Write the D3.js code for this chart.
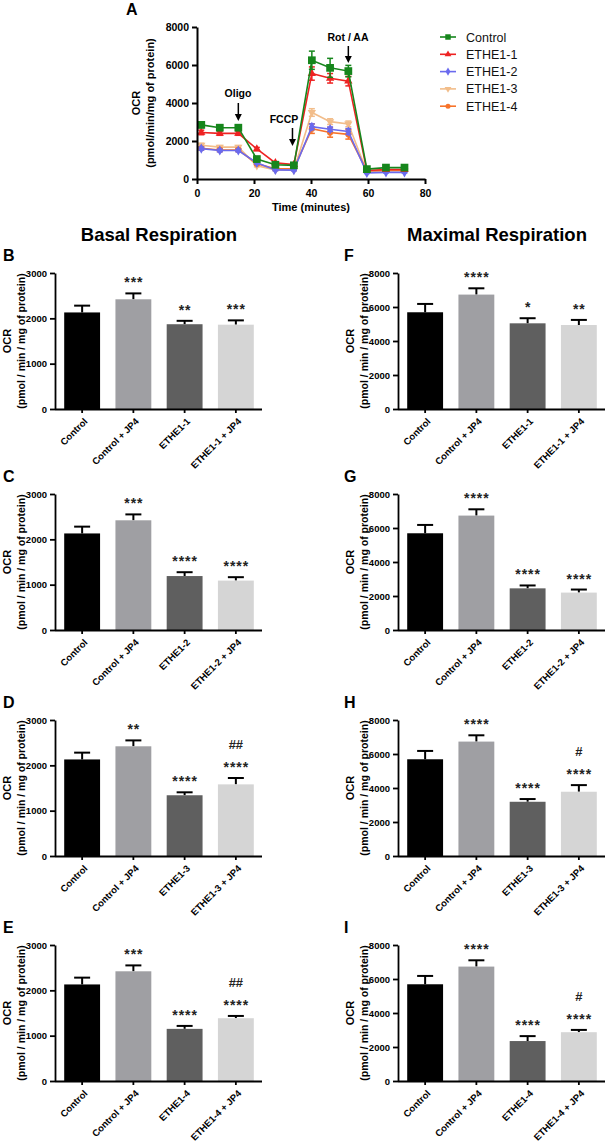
<!DOCTYPE html>
<html><head><meta charset="utf-8">
<script src="https://cdn.jsdelivr.net/npm/d3@7"></script>
<style>
body{margin:0;background:#fff;}
svg{display:block;font-family:"Liberation Sans",Arial,sans-serif;}
</style></head>
<body><svg id="c" width="605" height="1144"></svg>
<script>
// ---------- Panel A data ----------
const times = [1.5, 8, 14.5, 21, 27.5, 34, 40.3, 46.7, 53.1, 59.6, 66.3, 72.8];
const seriesNames = ["Control", "ETHE1-1", "ETHE1-2", "ETHE1-3", "ETHE1-4"];
const ocrControl = [2850, 2700, 2700, 1050, 750, 720, 6250, 5850, 5680, 520, 600, 600];
const ocrEthe1 = [2450, 2400, 2400, 1580, 850, 760, 5550, 5300, 5150, 450, 500, 500];
const ocrEthe2 = [1600, 1500, 1500, 850, 480, 470, 2750, 2620, 2500, 320, 350, 350];
const ocrEthe3 = [1780, 1680, 1680, 700, 480, 470, 3500, 3020, 2900, 380, 420, 430];
const ocrEthe4 = [1620, 1530, 1530, 800, 540, 540, 2650, 2450, 2350, 430, 460, 460];
const errControl = [150, 100, 100, 80, 60, 60, 480, 500, 300, 50, 50, 50];
const errEthe1 = [120, 100, 100, 80, 60, 60, 350, 250, 250, 40, 40, 40];
const errEthe2 = [80, 70, 70, 60, 40, 40, 150, 120, 150, 30, 30, 30];
const errEthe3 = [100, 80, 80, 60, 40, 40, 200, 150, 150, 30, 30, 30];
const errEthe4 = [80, 80, 80, 60, 40, 40, 250, 250, 250, 30, 30, 30];
const timeTicks = [0, 20, 40, 60, 80];
const ocrTicks = [0, 2000, 4000, 6000, 8000];
const injections = [{label: "Oligo", t: 14.5}, {label: "FCCP", t: 33.5}, {label: "Rot / AA", t: 53.1}];

// ---------- Bar panels data ----------
const basalTicks = [0, 1000, 2000, 3000];
const maxTicks = [0, 2000, 4000, 6000, 8000];
const catsB = ["Control", "Control + JP4", "ETHE1-1", "ETHE1-1 + JP4"];
const catsC = ["Control", "Control + JP4", "ETHE1-2", "ETHE1-2 + JP4"];
const catsD = ["Control", "Control + JP4", "ETHE1-3", "ETHE1-3 + JP4"];
const catsE = ["Control", "Control + JP4", "ETHE1-4", "ETHE1-4 + JP4"];
const basalB = [2130, 2420, 1870, 1860], basalBErr = [150, 130, 75, 95];
const basalC = [2130, 2420, 1190, 1090], basalCErr = [150, 130, 85, 75];
const basalD = [2130, 2420, 1340, 1580], basalDErr = [150, 130, 65, 140];
const basalE = [2130, 2420, 1150, 1385], basalEErr = [150, 130, 65, 50];
const maxF = [5690, 6730, 5040, 4940], maxFErr = [490, 370, 300, 300];
const maxG = [5690, 6730, 2450, 2200], maxGErr = [490, 370, 170, 180];
const maxH = [5690, 6730, 3190, 3780], maxHErr = [490, 370, 160, 390];
const maxI = [5690, 6730, 2350, 2870], maxIErr = [490, 370, 290, 135];
const starsB = ["", "***", "**", "***"], starsF = ["", "****", "*", "**"];
const starsC = ["", "***", "****", "****"], starsG = ["", "****", "****", "****"];
const starsD = ["", "**", "****", "****"], starsH = ["", "****", "****", "****"];
const starsE = ["", "***", "****", "****"], starsI = ["", "****", "****", "****"];
const hashD = ["", "", "", "##"], hashE = ["", "", "", "##"];
const hashH = ["", "", "", "#"], hashI = ["", "", "", "#"];
const none = ["", "", "", ""];

const barColors = ["#000000", "#9f9fa3", "#5f5f5f", "#d5d5d5"];
const lineColors = {"Control": "#16861c", "ETHE1-1": "#ee2222", "ETHE1-2": "#6a6aee", "ETHE1-3": "#f2bd8a", "ETHE1-4": "#f7732a"};
const fmt = d3.format("d");

const svg = d3.select("#c");

// ================= Panel A =================
(function () {
  const x = d3.scaleLinear().domain([0, 80]).range([197, 425]);
  const y = d3.scaleLinear().domain([0, 8000]).range([179, 27]);
  const g = svg.append("g");
  g.append("text").attr("x", 126).attr("y", 15).attr("font-size", 16).attr("font-weight", "bold").text("A");

  const series = [
    {name: "ETHE1-3", v: ocrEthe3, e: errEthe3, sym: "down"},
    {name: "ETHE1-4", v: ocrEthe4, e: errEthe4, sym: d3.symbolCircle},
    {name: "ETHE1-2", v: ocrEthe2, e: errEthe2, sym: d3.symbolDiamond},
    {name: "ETHE1-1", v: ocrEthe1, e: errEthe1, sym: d3.symbolTriangle},
    {name: "Control", v: ocrControl, e: errControl, sym: d3.symbolSquare}
  ];
  const symPath = (s, size) => s === "down" ? d3.symbol(d3.symbolTriangle, size)() : d3.symbol(s, size)();
  const symSize = n => n === "Control" ? 60 : 30;
  const line = d3.line().x(d => x(d[0])).y(d => y(d[1]));
  series.forEach(s => {
    const col = lineColors[s.name];
    const pts = times.map((t, i) => [t, s.v[i], s.e[i]]);
    const sg = g.append("g");
    pts.forEach(p => {
      sg.append("line").attr("x1", x(p[0])).attr("x2", x(p[0])).attr("y1", y(p[1] - p[2])).attr("y2", y(p[1] + p[2])).attr("stroke", col).attr("stroke-width", 1.5);
      [p[1] - p[2], p[1] + p[2]].forEach(v => sg.append("line").attr("x1", x(p[0]) - 3).attr("x2", x(p[0]) + 3).attr("y1", y(v)).attr("y2", y(v)).attr("stroke", col).attr("stroke-width", 1.5));
    });
    sg.append("path").attr("d", line(pts)).attr("fill", "none").attr("stroke", col).attr("stroke-width", 1.6);
    sg.selectAll("path.m").data(pts).join("path").attr("class", "m")
      .attr("d", symPath(s.sym, symSize(s.name)))
      .attr("transform", d => `translate(${x(d[0])},${y(d[1])})` + (s.sym === "down" ? " rotate(180)" : ""))
      .attr("fill", col);
  });

  const xa = g.append("g").attr("transform", "translate(0,179)")
    .call(d3.axisBottom(x).tickValues(timeTicks).tickFormat(fmt).tickSize(5).tickSizeOuter(0));
  const ya = g.append("g").attr("transform", "translate(197,0)")
    .call(d3.axisLeft(y).tickValues(ocrTicks).tickFormat(fmt).tickSize(5).tickSizeOuter(0));
  [xa, ya].forEach(a => {
    a.select(".domain").attr("stroke", "#000").attr("stroke-width", 2);
    a.selectAll(".tick line").attr("stroke", "#000").attr("stroke-width", 2);
    a.selectAll(".tick text").attr("font-size", 10.5).attr("font-weight", "bold").attr("fill", "#000")
      .attr("font-family", "Liberation Sans, Arial, sans-serif");
  });
  xa.selectAll(".tick text").attr("dy", "0.95em");
  g.append("text").attr("x", 311).attr("y", 211).attr("text-anchor", "middle").attr("font-size", 11).attr("font-weight", "bold").text("Time (minutes)");
  g.append("text").attr("transform", "translate(140,103) rotate(-90)").attr("text-anchor", "middle").attr("font-size", 11).attr("font-weight", "bold").text("OCR");
  g.append("text").attr("transform", "translate(154,103) rotate(-90)").attr("text-anchor", "middle").attr("font-size", 11).attr("font-weight", "bold").text("(pmol/min/mg of protein)");

  // injection annotations
  const annY = {"Oligo": [97, 103, 121], "FCCP": [123, 128, 146], "Rot / AA": [41, 46, 63]};
  const annX = {"Oligo": 238, "FCCP": 284, "Rot / AA": 348};
  injections.forEach(a => {
    const ax = x(a.t), yy = annY[a.label];
    g.append("text").attr("x", annX[a.label]).attr("y", yy[0]).attr("text-anchor", "middle").attr("font-size", 10.5).attr("font-weight", "bold").text(a.label);
    g.append("line").attr("x1", ax).attr("x2", ax).attr("y1", yy[1]).attr("y2", yy[2] - 5).attr("stroke", "#000").attr("stroke-width", 1.5);
    g.append("path").attr("d", `M${ax - 3.5},${yy[2] - 7}L${ax + 3.5},${yy[2] - 7}L${ax},${yy[2]}Z`).attr("fill", "#000");
  });

  // legend
  const legOrder = [
    {name: "Control", sym: d3.symbolSquare},
    {name: "ETHE1-1", sym: d3.symbolTriangle},
    {name: "ETHE1-2", sym: d3.symbolDiamond},
    {name: "ETHE1-3", sym: "down"},
    {name: "ETHE1-4", sym: d3.symbolCircle}
  ];
  legOrder.forEach((s, i) => {
    const ly = 37 + i * 17.3, col = lineColors[s.name];
    g.append("line").attr("x1", 440).attr("x2", 456).attr("y1", ly).attr("y2", ly).attr("stroke", col).attr("stroke-width", 1.6);
    g.append("path").attr("d", symPath(s.sym, s.name === "Control" ? 30 : 20))
      .attr("transform", `translate(448,${ly})` + (s.sym === "down" ? " rotate(180)" : "")).attr("fill", col);
    g.append("text").attr("x", 466).attr("y", ly + 4.5).attr("font-size", 12.5).attr("fill", "#111").text(s.name);
  });
})();

// ================= Bar panels =================
svg.append("text").attr("x", 159).attr("y", 241).attr("text-anchor", "middle").attr("font-size", 18.5).attr("font-weight", "bold").text("Basal Respiration");
svg.append("text").attr("x", 497).attr("y", 241).attr("text-anchor", "middle").attr("font-size", 18.5).attr("font-weight", "bold").text("Maximal Respiration");

function barPanel(opt) {
  const g = svg.append("g");
  const x = d3.scaleBand().domain(opt.cats).range([opt.x0, opt.x0 + 206]).paddingInner(0.3).paddingOuter(0.16);
  const y = d3.scaleLinear().domain([0, opt.max]).range([opt.base, opt.base - 136]);
  const rows = opt.cats.map((c, i) => ({c, v: opt.vals[i], e: opt.errs[i], s: opt.stars[i], h: opt.hash[i], col: barColors[i]}));
  g.append("text").attr("x", opt.letterX).attr("y", opt.base - 136 - 12).attr("font-size", 16).attr("font-weight", "bold").text(opt.letter);
  // error bars (upward only)
  rows.forEach(r => {
    const cx = x(r.c) + x.bandwidth() / 2;
    g.append("line").attr("x1", cx).attr("x2", cx).attr("y1", y(r.v)).attr("y2", y(r.v + r.e)).attr("stroke", "#000").attr("stroke-width", 2);
    g.append("line").attr("x1", cx - 8).attr("x2", cx + 8).attr("y1", y(r.v + r.e)).attr("y2", y(r.v + r.e)).attr("stroke", "#000").attr("stroke-width", 2);
  });
  g.selectAll("rect").data(rows).join("rect")
    .attr("x", d => x(d.c)).attr("width", x.bandwidth())
    .attr("y", d => y(d.v)).attr("height", d => y(0) - y(d.v)).attr("fill", d => d.col);
  rows.forEach(r => {
    const cx = x(r.c) + x.bandwidth() / 2;
    const top = y(r.v + r.e);
    if (r.s) g.append("text").attr("x", cx + 0.5).attr("y", top - 6).attr("text-anchor", "middle").attr("font-size", 14).attr("letter-spacing", 1).attr("font-weight", "bold").attr("fill", "#222").text(r.s);
    if (r.h) g.append("text").attr("x", cx).attr("y", top - 29).attr("text-anchor", "middle").attr("font-size", 13).attr("font-weight", "bold").attr("fill", "#222").text(r.h);
  });
  const ya = g.append("g").attr("transform", `translate(${opt.x0 - 1},0)`)
    .call(d3.axisLeft(y).tickValues(opt.ticks).tickFormat(fmt).tickSize(5).tickSizeOuter(0));
  const xa = g.append("g").attr("transform", `translate(0,${opt.base})`)
    .call(d3.axisBottom(x).tickSize(4).tickSizeOuter(0));
  [xa, ya].forEach(a => {
    a.select(".domain").attr("stroke", "#000").attr("stroke-width", 1.8);
    a.selectAll(".tick line").attr("stroke", "#000").attr("stroke-width", 1.8);
    a.selectAll(".tick text").attr("font-size", 9.5).attr("font-weight", "bold").attr("fill", "#000")
      .attr("font-family", "Liberation Sans, Arial, sans-serif");
  });
  xa.select(".domain").attr("d", `M${opt.x0 - 1},0.5H${opt.x0 + 206}`);
  xa.selectAll(".tick text").attr("text-anchor", "end").attr("dy", "0.3em").attr("y", 0)
    .attr("transform", "translate(4,11) rotate(-45)");
  const lx = opt.x0 - 45, my = opt.base - 68;
  g.append("text").attr("transform", `translate(${lx},${my}) rotate(-90)`).attr("text-anchor", "middle").attr("font-size", 11).attr("font-weight", "bold").text("OCR");
  g.append("text").attr("transform", `translate(${lx + 14},${my}) rotate(-90)`).attr("text-anchor", "middle").attr("font-size", 10.5).attr("font-weight", "bold").text("(pmol / min / mg of protein)");
}

const L = 56, R = 399;
barPanel({letter: "B", letterX: 3, x0: L, base: 409, max: 3000, ticks: basalTicks, cats: catsB, vals: basalB, errs: basalBErr, stars: starsB, hash: none});
barPanel({letter: "C", letterX: 3, x0: L, base: 630, max: 3000, ticks: basalTicks, cats: catsC, vals: basalC, errs: basalCErr, stars: starsC, hash: none});
barPanel({letter: "D", letterX: 3, x0: L, base: 856, max: 3000, ticks: basalTicks, cats: catsD, vals: basalD, errs: basalDErr, stars: starsD, hash: hashD});
barPanel({letter: "E", letterX: 3, x0: L, base: 1081, max: 3000, ticks: basalTicks, cats: catsE, vals: basalE, errs: basalEErr, stars: starsE, hash: hashE});
barPanel({letter: "F", letterX: 344, x0: R, base: 409, max: 8000, ticks: maxTicks, cats: catsB, vals: maxF, errs: maxFErr, stars: starsF, hash: none});
barPanel({letter: "G", letterX: 344, x0: R, base: 630, max: 8000, ticks: maxTicks, cats: catsC, vals: maxG, errs: maxGErr, stars: starsG, hash: none});
barPanel({letter: "H", letterX: 344, x0: R, base: 856, max: 8000, ticks: maxTicks, cats: catsD, vals: maxH, errs: maxHErr, stars: starsH, hash: hashH});
barPanel({letter: "I", letterX: 344, x0: R, base: 1081, max: 8000, ticks: maxTicks, cats: catsE, vals: maxI, errs: maxIErr, stars: starsI, hash: hashI});
</script></body></html>
